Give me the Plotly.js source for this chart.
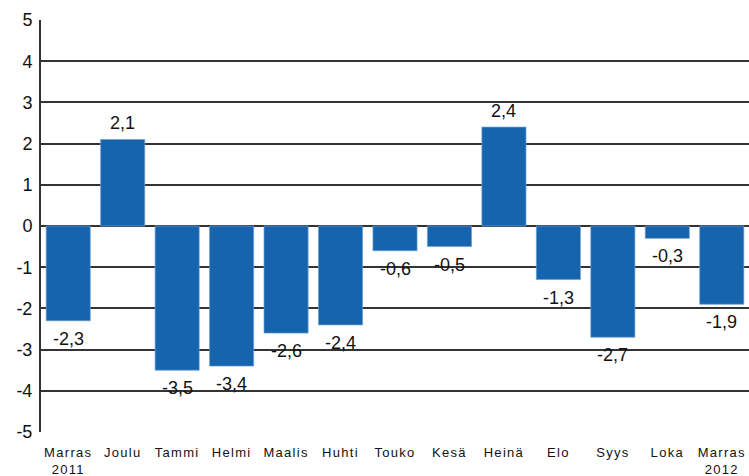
<!DOCTYPE html>
<html>
<head>
<meta charset="utf-8">
<script src="https://cdn.plot.ly/plotly-3.0.1.min.js"></script>
<style>
html,body{margin:0;padding:0;background:#fff;}
#chart{width:749px;height:476px;}
.xtick text{letter-spacing:1.3px;}
</style>
</head>
<body>
<div id="chart"></div>
<script>
const categories = ["Marras<br>2011","Joulu","Tammi","Helmi","Maalis","Huhti","Touko","Kesä","Heinä","Elo","Syys","Loka","Marras<br>2012"];
const values = [-2.3, 2.1, -3.5, -3.4, -2.6, -2.4, -0.6, -0.5, 2.4, -1.3, -2.7, -0.3, -1.9];
const yTickVals = [-5,-4,-3,-2,-1,0,1,2,3,4,5];
const yTickText = ["-5","-4","-3","-2","-1","0","1","2","3","4","5"];

const labels = values.map(v => v.toFixed(1).replace('.', ','));
const numFont = 'Liberation Sans Narrow, Arial Narrow, Liberation Sans, Arial, sans-serif';

const trace = {
  type: 'bar',
  x: categories,
  y: values,
  marker: {color: '#1764ae', line: {color: '#6a9fd2', width: 0.7}},
  hoverinfo: 'none'
};

const annotations = categories.map((c, i) => ({
  x: c, y: values[i], xref: 'x', yref: 'y',
  text: labels[i], showarrow: false,
  yanchor: values[i] >= 0 ? 'bottom' : 'top',
  yshift: values[i] >= 0 ? 4 : -6,
  font: {family: numFont, size: 18, color: '#111'}
}));

const layout = {
  width: 749, height: 476,
  margin: {l: 41, r: 0, t: 20, b: 44},
  paper_bgcolor: '#fff', plot_bgcolor: '#fff',
  bargap: 0.19,
  showlegend: false,
  annotations: annotations,
  font: {family: 'Liberation Sans, Arial, sans-serif', size: 13, color: '#111'},
  xaxis: {
    type: 'category',
    showgrid: false, showline: false, zeroline: false,
    ticks: '', tickfont: {family: 'Liberation Sans, Arial, sans-serif', size: 13, color: '#111'},
    ticklabelstandoff: 11
  },
  yaxis: {
    range: [-5, 5],
    tickmode: 'array', tickvals: yTickVals, ticktext: yTickText,
    showgrid: true, gridcolor: '#333', gridwidth: 2,
    zeroline: true, zerolinecolor: '#333', zerolinewidth: 2,
    showline: true, linecolor: '#333', linewidth: 2,
    ticks: '', tickfont: {family: numFont, size: 18, color: '#111'},
    ticklabelstandoff: 3
  }
};

Plotly.newPlot('chart', [trace], layout, {staticPlot: true, displayModeBar: false});
</script>
</body>
</html>
